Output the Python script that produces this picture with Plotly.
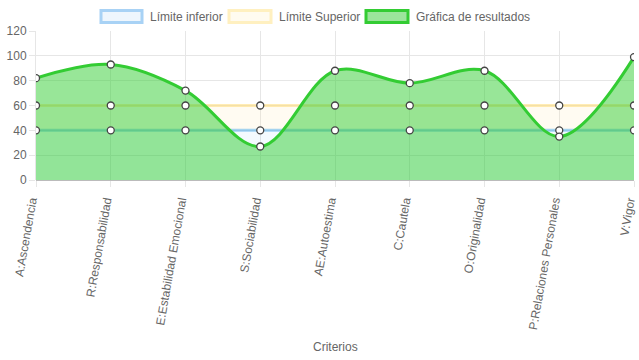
import plotly.graph_objects as go

categorias = ["A:Ascendencia", "R:Responsabilidad", "E:Estabilidad Emocional", "S:Sociabilidad",
              "AE:Autoestima", "C:Cautela", "O:Originalidad", "P:Relaciones Personales", "V:Vigor"]
limite_inferior = [40, 40, 40, 40, 40, 40, 40, 40, 40]
limite_superior = [60, 60, 60, 60, 60, 60, 60, 60, 60]
resultados = [82, 93, 72, 27, 88, 78, 88, 35, 99]
y_ticks = [0, 20, 40, 60, 80, 100, 120]
series_nombres = ["Límite inferior", "Límite Superior", "Gráfica de resultados"]
titulo_x = "Criterios"

FONT = "Liberation Sans, Arial, sans-serif"
marker_style = dict(size=7, color="white", line=dict(color="#444", width=1.3))

W, H = 639, 360
ML, MR, MT, MB = 36, 5, 31, 180

fig = go.Figure()
fig.add_trace(go.Scatter(
    x=categorias, y=limite_inferior, name=series_nombres[0], mode="lines", showlegend=False,
    line=dict(color="rgba(54,162,235,0.45)", width=3),
    fill="tozeroy", fillcolor="rgba(54,162,235,0.06)"))
fig.add_trace(go.Scatter(
    x=categorias, y=limite_superior, name=series_nombres[1], mode="lines", showlegend=False,
    line=dict(color="rgba(255,220,120,0.55)", width=3),
    fill="tonexty", fillcolor="rgba(255,230,170,0.15)"))
fig.add_trace(go.Scatter(
    x=categorias, y=resultados, name=series_nombres[2], mode="lines", showlegend=False,
    line=dict(color="#33cc33", width=3, shape="spline", smoothing=1.0),
    fill="tozeroy", fillcolor="rgba(50,205,50,0.5)"))
for serie in (limite_inferior, limite_superior, resultados):
    fig.add_trace(go.Scatter(x=categorias, y=serie, mode="markers",
                             marker=marker_style, showlegend=False, hoverinfo="skip"))

# Chart.js-style legend (boxes + labels) drawn in paper space
pw, ph = W - ML - MR, H - MT - MB
def px(x):
    return (x - ML) / pw
def py(y):
    return (H - MB - y) / ph

legend_style = [((101, 142), "#a8d2f5", "#eef6fd"),
                ((229, 271), "#fff0c0", "#fffbf0"),
                ((366, 408), "#33cc33", "#9be59b")]
for nombre, ((x0, x1), borde, relleno) in zip(series_nombres, legend_style):
    fig.add_shape(type="rect", xref="paper", yref="paper",
                  x0=px(x0), x1=px(x1), y0=py(22.5), y1=py(10.5),
                  line=dict(color=borde, width=3), fillcolor=relleno)
    fig.add_annotation(xref="paper", yref="paper", x=px(x1 + 6), y=py(16.5),
                       text=nombre, showarrow=False, xanchor="left", yanchor="middle",
                       font=dict(size=12, color="#666", family=FONT))

# x-axis title
fig.add_annotation(xref="paper", yref="paper", x=0.5, y=py(347), text=titulo_x,
                   showarrow=False, xanchor="center", yanchor="middle",
                   font=dict(size=12, color="#666", family=FONT))

fig.update_layout(
    width=W, height=H,
    margin=dict(l=ML, r=MR, t=MT, b=MB),
    paper_bgcolor="white", plot_bgcolor="white",
    font=dict(family=FONT, size=12, color="#666"),
    showlegend=False,
)
fig.update_xaxes(
    type="category", range=[0, 8], showgrid=True, gridcolor="#e6e6e6", gridwidth=1,
    tickangle=-80, ticks="outside", ticklen=6, tickcolor="#e6e6e6",
    showline=False, zeroline=False, automargin=False, ticklabelshift=-5,
    ticklabelstandoff=2,
    tickfont=dict(size=12, color="#666"),
)
fig.update_yaxes(
    range=[0, 120], tickvals=y_ticks, showgrid=True, gridcolor="#e6e6e6",
    ticks="outside", ticklen=6, tickcolor="#e6e6e6", zeroline=True, zerolinecolor="#bbb",
    zerolinewidth=1, showline=True, linecolor="#e6e6e6", automargin=False,
    tickfont=dict(size=12, color="#666"),
)
fig.write_html("out.html", config={"displayModeBar": False},
               post_script="document.body.style.margin='0';")
